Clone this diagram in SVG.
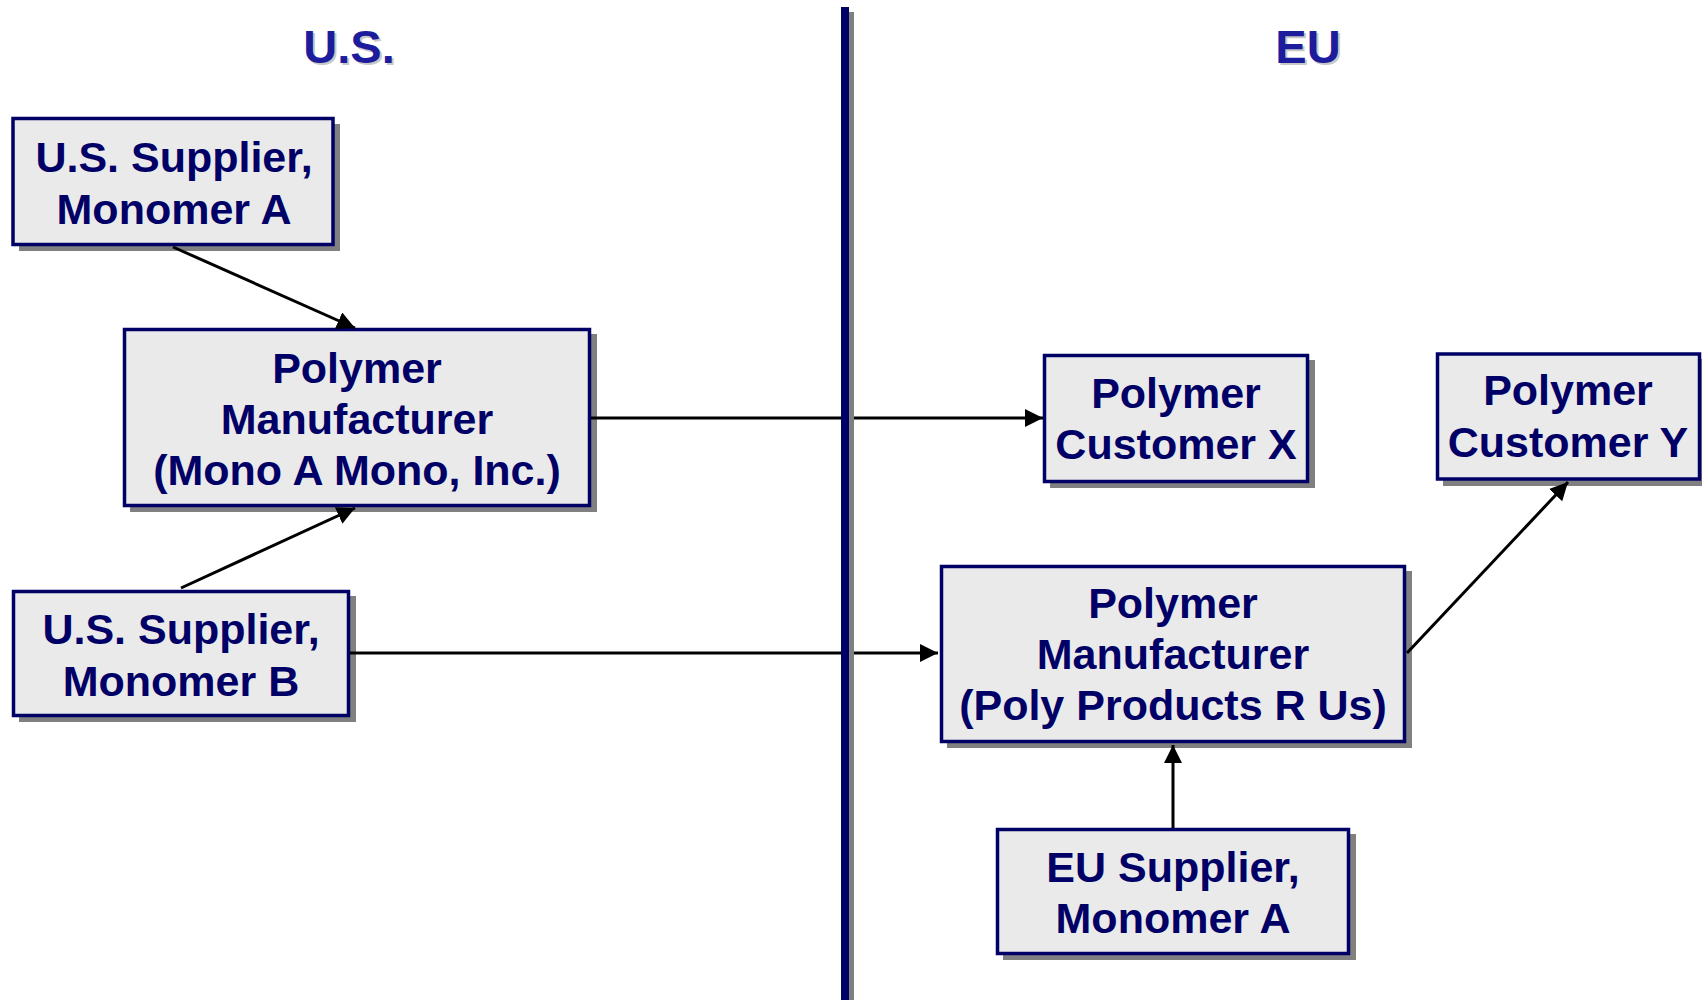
<svg xmlns="http://www.w3.org/2000/svg" width="1702" height="1000" viewBox="0 0 1702 1000">
<defs>
<style>
.box{fill:#EAEAEA;stroke:#000066;stroke-width:3.5}
.sh{fill:#808080}
.t{font-family:"Liberation Sans",Arial,sans-serif;font-weight:bold;font-size:43px;fill:#000066;text-anchor:middle}
.h{font-family:"Liberation Sans",Arial,sans-serif;font-weight:bold;font-size:47px;fill:#1C1C9C;text-anchor:middle}
.hs{font-family:"Liberation Sans",Arial,sans-serif;font-weight:bold;font-size:47px;fill:#C8C8C8;text-anchor:middle}
.c{stroke:#000;stroke-width:3;fill:none}
</style>
<marker id="ah" markerUnits="userSpaceOnUse" markerWidth="18" markerHeight="18" viewBox="0 0 16 16" refX="16" refY="8" orient="auto">
<path d="M0,0 L16,8 L0,16 Z" fill="#000"/>
</marker>
</defs>
<rect width="1702" height="1000" fill="#fff"/>
<g id="headings">
<text class="hs" x="351" y="65">U.S.</text>
<text class="h" x="349" y="63">U.S.</text>
<text class="hs" x="1310" y="65">EU</text>
<text class="h" x="1308" y="63">EU</text>
</g>
<g id="us-supplier-a">
<rect class="sh" x="19" y="124" width="321" height="127"/>
<rect class="box" x="13" y="118.5" width="320" height="126"/>
<text class="t" x="174" y="172">U.S. Supplier,</text>
<text class="t" x="174" y="224">Monomer A</text>
</g>
<g id="mono-a-mono">
<rect class="sh" x="130" y="334" width="467" height="178"/>
<rect class="box" x="124.5" y="329.5" width="465" height="176"/>
<text class="t" x="357" y="383">Polymer</text>
<text class="t" x="357" y="434">Manufacturer</text>
<text class="t" x="357" y="485">(Mono A Mono, Inc.)</text>
</g>
<g id="us-supplier-b">
<rect class="sh" x="19" y="596" width="337" height="126"/>
<rect class="box" x="13.5" y="591.5" width="335" height="124"/>
<text class="t" x="181" y="644">U.S. Supplier,</text>
<text class="t" x="181" y="696">Monomer B</text>
</g>
<g id="customer-x">
<rect class="sh" x="1050" y="360" width="265" height="128"/>
<rect class="box" x="1044.5" y="355.5" width="263" height="126"/>
<text class="t" x="1176" y="408">Polymer</text>
<text class="t" x="1176" y="459">Customer X</text>
</g>
<g id="customer-y">
<rect class="sh" x="1443" y="359" width="265" height="127"/>
<rect class="box" x="1437.5" y="354" width="262" height="125"/>
<text class="t" x="1568" y="405">Polymer</text>
<text class="t" x="1568" y="457">Customer Y</text>
</g>
<g id="poly-products">
<rect class="sh" x="947" y="571" width="465" height="177"/>
<rect class="box" x="941.5" y="566.5" width="463" height="175"/>
<text class="t" x="1173" y="618">Polymer</text>
<text class="t" x="1173" y="669">Manufacturer</text>
<text class="t" x="1173" y="720">(Poly Products R Us)</text>
</g>
<g id="eu-supplier-a">
<rect class="sh" x="1003" y="834" width="353" height="126"/>
<rect class="box" x="997.5" y="829.5" width="351" height="124"/>
<text class="t" x="1173" y="882">EU Supplier,</text>
<text class="t" x="1173" y="933">Monomer A</text>
</g>
<g id="connectors">
<line class="c" x1="173" y1="247" x2="355" y2="328" marker-end="url(#ah)"/>
<line class="c" x1="181" y1="588" x2="355" y2="508" marker-end="url(#ah)"/>
<line class="c" x1="591" y1="418" x2="1043" y2="418" marker-end="url(#ah)"/>
<line class="c" x1="350" y1="653" x2="938" y2="653" marker-end="url(#ah)"/>
<line class="c" x1="1173" y1="828" x2="1173" y2="745" marker-end="url(#ah)"/>
<line class="c" x1="1407" y1="653" x2="1568" y2="482" marker-end="url(#ah)"/>
</g>
<g id="divider">
<rect class="sh" x="849" y="12" width="5" height="988"/>
<rect x="841" y="7" width="8" height="993" fill="#000066"/>
</g>
</svg>
